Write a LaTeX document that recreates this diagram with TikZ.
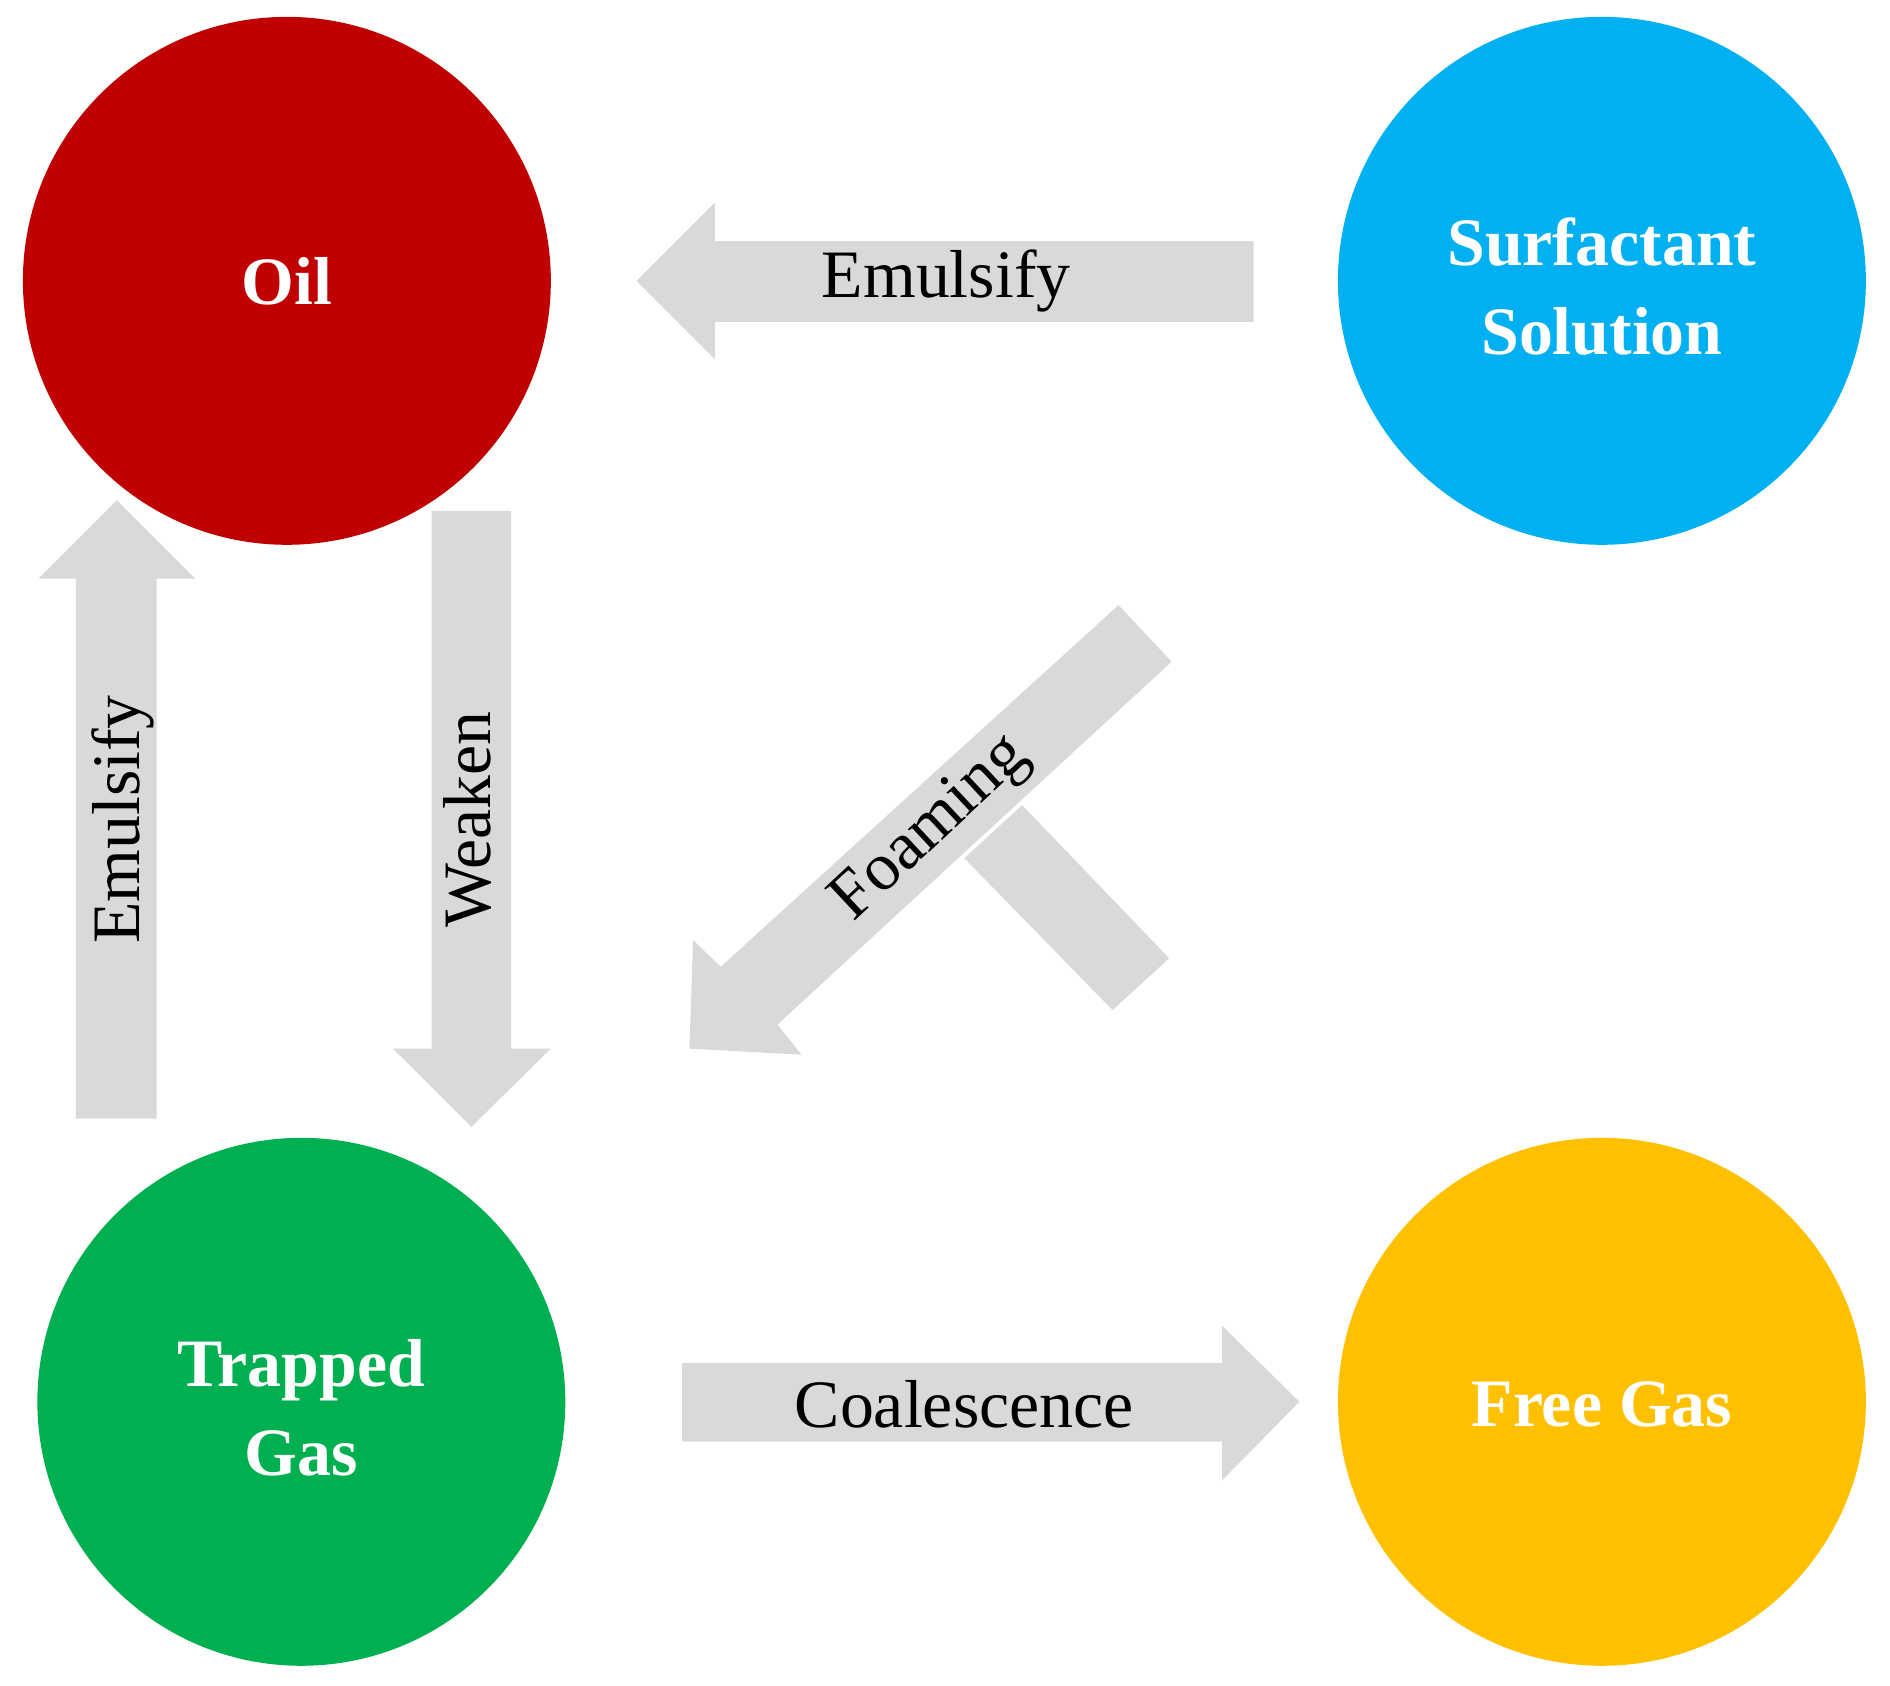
\documentclass[tikz,border=0pt]{standalone}
\usepackage{fontspec}
\setmainfont{Liberation Serif}
\definecolor{gr}{RGB}{217,217,217}
\definecolor{oilc}{RGB}{192,0,0}
\definecolor{surfc}{RGB}{0,176,240}
\definecolor{trapc}{RGB}{0,176,80}
\definecolor{freec}{RGB}{255,192,0}
\begin{document}
\begin{tikzpicture}[x=0.01cm,y=-0.01cm,
  circ/.style={inner sep=0pt,text=white,font=\fontsize{16}{19}\selectfont\bfseries,align=center},
  lab/.style={font=\fontsize{16}{19}\selectfont,text=black}]
\useasboundingbox (0,0) rectangle (1568,1398);
\fill[oilc] (238,233) circle (219);
\node[circ] (oil) at (238,233) {Oil};
\fill[surfc] (1329,233) circle (219);
\node[circ] (surf) at (1329,238) {Surfactant\\[2pt]Solution};
\fill[trapc] (250,1163) circle (219);
\node[circ] (trap) at (250,1168) {Trapped\\[2pt]Gas};
\fill[freec] (1329,1163) circle (219);
\node[circ] (free) at (1329,1165) {Free Gas};
\fill[gr] (1040,200) -- (593,200) -- (593,168) -- (528,233) -- (593,298) -- (593,267) -- (1040,267) -- cycle;
\node[lab] (e1) at (785,233) {Emulsify};
\fill[gr] (566,1131) -- (1014,1131) -- (1014,1100) -- (1078,1163) -- (1014,1228) -- (1014,1196) -- (566,1196) -- cycle;
\node[lab] (co) at (800,1165) {Coalescence};
\fill[gr] (63,928) -- (63,480) -- (32,480) -- (97,415) -- (162,480) -- (130,480) -- (130,928) -- cycle;
\node[lab,rotate=90] (e2) at (102,680) {Emulsify};
\fill[gr] (358,424) -- (358,870) -- (326,870) -- (391,935) -- (457,870) -- (424,870) -- (424,424) -- cycle;
\node[lab,rotate=90] (wk) at (388,680) {Weaken};
\fill[gr] (928,502) -- (972,549) -- (645,850) -- (665,875) -- (572,870) -- (575,780) -- (598,802) -- cycle;
\fill[gr] (848,668) -- (970,795) -- (923,838) -- (800,712) -- cycle;
\node[lab,rotate=43] (fo) at (773,688) {Foaming};
\end{tikzpicture}
\end{document}
